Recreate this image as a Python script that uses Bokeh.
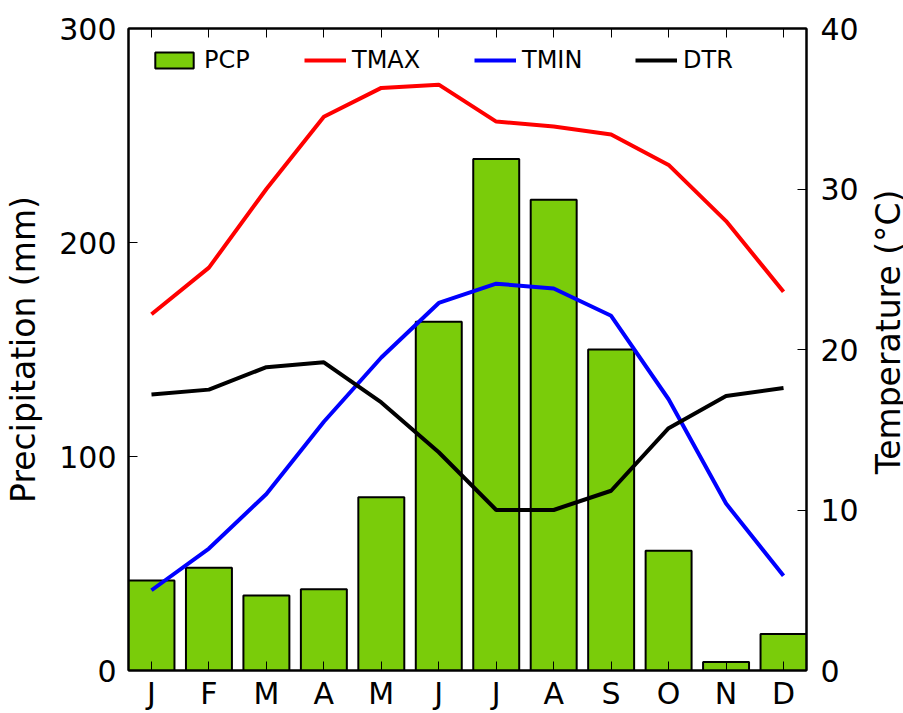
import math
from bokeh.plotting import figure
from bokeh.layouts import row
from bokeh.models import (Range1d, LinearAxis, FixedTicker, Legend, LegendItem,
                          ColumnDataSource, Label)
from bokeh.embed import file_html
from bokeh.resources import INLINE

months = ["J", "F", "M", "A", "M", "J", "J", "A", "S", "O", "N", "D"]
pcp = [42, 48, 35, 38, 81, 163, 239, 220, 150, 56, 4, 17]
tmax = [22.2, 25.1, 30.0, 34.5, 36.3, 36.5, 34.2, 33.9, 33.4, 31.5, 28.0, 23.6]
tmin = [5.0, 7.6, 11.0, 15.5, 19.5, 22.9, 24.1, 23.8, 22.1, 16.9, 10.4, 5.9]
dtr = [17.2, 17.5, 18.9, 19.2, 16.7, 13.6, 10.0, 10.0, 11.2, 15.1, 17.1, 17.6]
pcp_ticks = [0, 100, 200, 300]
temp_ticks = [0, 10, 20, 30, 40]

FONT = "DejaVu Sans"
xpos = list(range(len(months)))
src = ColumnDataSource(dict(x=xpos, pcp=pcp, tmax=tmax, tmin=tmin, dtr=dtr))

p = figure(width=868, height=713, output_backend="svg", toolbar_location=None,
           x_range=Range1d(-0.4, 11.4), y_range=Range1d(0, 300),
           min_border_left=128, min_border_right=62, min_border_top=28,
           min_border_bottom=40)
p.extra_y_ranges = {"temp": Range1d(0, 40)}
p.grid.visible = False
p.outline_line_color = "black"
p.outline_line_width = 2
p.background_fill_color = "white"
p.border_fill_color = "white"

bars = p.vbar(x="x", top="pcp", width=0.8, bottom=0, source=src,
              fill_color="#7ACC0A", line_color="black", line_width=2)
l1 = p.line("x", "tmax", source=src, y_range_name="temp", line_color="#FF0000", line_width=4)
l2 = p.line("x", "tmin", source=src, y_range_name="temp", line_color="#0000FF", line_width=4)
l3 = p.line("x", "dtr", source=src, y_range_name="temp", line_color="black", line_width=4)

def style_axis(ax, size="30px"):
    ax.major_tick_in = 9
    ax.major_tick_out = 0
    ax.minor_tick_in = 0
    ax.minor_tick_out = 0
    ax.major_tick_line_color = "black"
    ax.major_tick_line_width = 1
    ax.axis_line_color = "black"
    ax.axis_line_width = 2
    ax.major_label_text_font = FONT
    ax.major_label_text_font_size = size
    ax.major_label_text_color = "black"
    ax.axis_label_text_font = FONT
    ax.axis_label_text_font_style = "normal"
    ax.axis_label_text_font_size = "33px"
    ax.axis_label_text_color = "black"

xa = p.xaxis[0]
xa.ticker = FixedTicker(ticks=xpos)
xa.major_label_overrides = {i: m for i, m in zip(xpos, months)}
style_axis(xa)
xa.major_label_standoff = 5

ya = p.yaxis[0]
ya.ticker = FixedTicker(ticks=pcp_ticks)
ya.axis_label = "Precipitation (mm)"
style_axis(ya)
ya.major_label_standoff = 12
ya.axis_label_standoff = 13

ra = LinearAxis(y_range_name="temp", ticker=FixedTicker(ticks=temp_ticks))
style_axis(ra)
ra.major_label_standoff = 14
p.add_layout(ra, "right")

ta = LinearAxis(ticker=FixedTicker(ticks=xpos))
style_axis(ta)
ta.major_label_text_color = None
ta.major_label_text_font_size = "1px"
ta.major_label_standoff = 0
p.add_layout(ta, "above")

def add_leg(renderer, label, x, gw):
    lg = Legend(items=[LegendItem(label=label, renderers=[renderer])],
                location=(x, 596), orientation="horizontal",
                border_line_color=None, background_fill_alpha=0,
                padding=0, margin=0, spacing=0,
                glyph_width=gw, glyph_height=20, label_standoff=6,
                label_text_font=FONT, label_text_font_size="24px",
                label_text_color="black", label_height=26)
    p.add_layout(lg, "center")

add_leg(bars, "PCP", 22, 48)
add_leg(l1, "TMAX", 176, 42)
add_leg(l2, "TMIN", 346, 42)
add_leg(l3, "DTR", 507, 42)

# narrow strip carrying the right-hand axis title (reads bottom-to-top)
q = figure(width=35, height=713, output_backend="svg", toolbar_location=None,
           x_range=Range1d(0, 35), y_range=Range1d(0, 713),
           x_axis_type=None, y_axis_type=None, min_border=0)
q.outline_line_color = None
q.grid.visible = False
q.background_fill_color = "white"
q.border_fill_color = "white"
q.add_layout(Label(x=20, y=376, text="Temperature (°C)", angle=math.pi / 2,
                   text_align="center", text_baseline="middle",
                   text_font=FONT, text_font_size="33px", text_color="black"))

layout = row(p, q, spacing=0)
open("out.html", "w").write(file_html(layout, INLINE))
